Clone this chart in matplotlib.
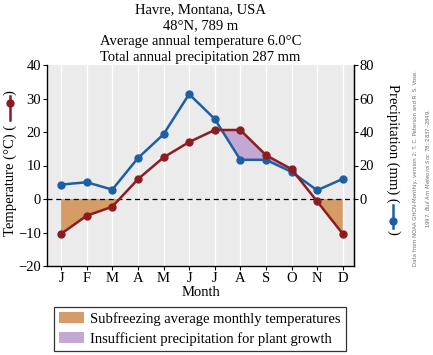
import matplotlib
matplotlib.use("Agg")
import matplotlib.pyplot as plt
import numpy as np
from matplotlib.lines import Line2D
from matplotlib.patches import Patch

months = ["J", "F", "M", "A", "M", "J", "J", "A", "S", "O", "N", "D"]
temperature = [-10.4, -5.0, -2.3, 5.9, 12.4, 17.0, 20.6, 20.6, 13.1, 8.9, -0.7, -10.4]
precipitation = [8.6, 10.0, 5.6, 24.4, 38.6, 62.6, 47.8, 23.4, 23.4, 16.2, 5.2, 12.0]
temp_ticks = [-20, -10, 0, 10, 20, 30, 40]
precip_ticks = [0, 20, 40, 60, 80]
title_lines = ["Havre, Montana, USA", "48°N, 789 m",
               "Average annual temperature 6.0°C",
               "Total annual precipitation 287 mm"]
legend_labels = ["Subfreezing average monthly temperatures",
                 "Insufficient precipitation for plant growth"]
source = ("Data from NOAA GHCN-Monthly, version 2; T. C. Peterson and R. S. Vose.\n"
          "1997. $\\it{Bull\\ Am\\ Meteorol\\ Soc}$ 78: 2837–2849.")

RED = "#8c1c20"
BLUE = "#1d5fa6"
ORANGE = "#d59c66"
PURPLE = "#c4a8d4"
BG = "#ebebeb"
FS = 10.5

plt.rcParams["font.family"] = ["Liberation Serif", "DejaVu Serif"]
plt.rcParams["axes.unicode_minus"] = True

W, H = 433, 355
fig = plt.figure(figsize=(W / 100, H / 100), dpi=100)

def fx(px):
    return px / W

def fy(py):
    return 1 - py / H

ax = fig.add_axes([fx(47), fy(266), fx(354) - fx(47), fy(65) - fy(266)])
ax.set_facecolor(BG)
x = np.arange(len(months))
ax.set_xlim(-0.55, 11.44)
ax.set_ylim(-20, 40)

for xi in x:
    ax.axvline(xi, color="white", lw=1.0, zorder=0.5)

t = np.array(temperature)
p_scaled = np.array(precipitation) / 2.0

ax.fill_between(x, t, 0, where=t < 0, interpolate=True, color=ORANGE, lw=0, zorder=1)
ax.fill_between(x, t, p_scaled, where=(t > p_scaled) & (t > 0), interpolate=True,
                color=PURPLE, lw=0, zorder=1)

ax.axhline(0, color="black", lw=0.9, ls=(0, (4, 3)), zorder=2)

ax.plot(x, p_scaled, color=BLUE, lw=1.8, marker="o", ms=5, zorder=3)
ax.plot(x, t, color=RED, lw=1.8, marker="o", ms=5, zorder=4)

ax.set_xticks(x)
ax.set_xticklabels(months, fontsize=FS)
ax.set_yticks(temp_ticks)
ax.set_yticklabels([f"{v}".replace("-", "\u2212") for v in temp_ticks], fontsize=FS)
ax.tick_params(direction="out", length=3, width=0.8, pad=1.2)
ax.spines["top"].set_visible(False)
for s in ["left", "bottom", "right"]:
    ax.spines[s].set_linewidth(0.9)
ax.set_xlabel("Month", fontsize=FS, labelpad=0.5)

ax2 = ax.twinx()
ax2.set_ylim(-40, 80)
ax2.set_yticks(precip_ticks)
ax2.set_yticklabels([str(v) for v in precip_ticks], fontsize=FS)
ax2.tick_params(direction="out", length=3, width=0.8, pad=1.2)
ax2.spines["top"].set_visible(False)
ax2.spines["right"].set_linewidth(0.9)

# titles
for i, line in enumerate(title_lines):
    fig.text(fx(200.5), fy(10 + 15.8 * i), line, ha="center", va="center", fontsize=FS)

# left ylabel with icon
fig.text(fx(10), fy(125), "Temperature (°C) (", rotation=90, rotation_mode="anchor",
         ha="right", va="center", fontsize=FS)
fig.text(fx(10), fy(95), ")", rotation=90, rotation_mode="anchor",
         ha="left", va="center", fontsize=FS)
fig.add_artist(Line2D([fx(9.5), fx(9.5)], [fy(96), fy(120)], color=RED, lw=1.8,
                      transform=fig.transFigure))
fig.add_artist(Line2D([fx(9.5)], [fy(103)], color=RED, marker="o", ms=5,
                      transform=fig.transFigure))

# right ylabel with icon
fig.text(fx(393), fy(203), "Precipitation (mm) (", rotation=-90, rotation_mode="anchor",
         ha="right", va="center", fontsize=FS)
fig.text(fx(393), fy(230), ")", rotation=-90, rotation_mode="anchor",
         ha="left", va="center", fontsize=FS)
fig.add_artist(Line2D([fx(393), fx(393)], [fy(205), fy(228)], color=BLUE, lw=1.8,
                      transform=fig.transFigure))
fig.add_artist(Line2D([fx(393)], [fy(221)], color=BLUE, marker="o", ms=5,
                      transform=fig.transFigure))

# source
fig.text(fx(422), fy(168), source, rotation=90, ha="center", va="center",
         fontsize=3.9, color="#707070", family=["Liberation Sans Narrow", "DejaVu Sans"],
         linespacing=2.0)

# legend
handles = [Patch(facecolor=ORANGE, edgecolor="none"),
           Patch(facecolor=PURPLE, edgecolor="none")]
leg = fig.legend(handles, legend_labels, loc="upper left",
                 bbox_to_anchor=(fx(54), fy(307)), fontsize=FS, frameon=True,
                 fancybox=False, framealpha=1, edgecolor="#333333",
                 handlelength=1.7, handleheight=0.75, handletextpad=0.45,
                 borderpad=0.35, labelspacing=0.4, borderaxespad=0)
leg.get_frame().set_linewidth(0.9)

fig.savefig("out.png", dpi=100)
